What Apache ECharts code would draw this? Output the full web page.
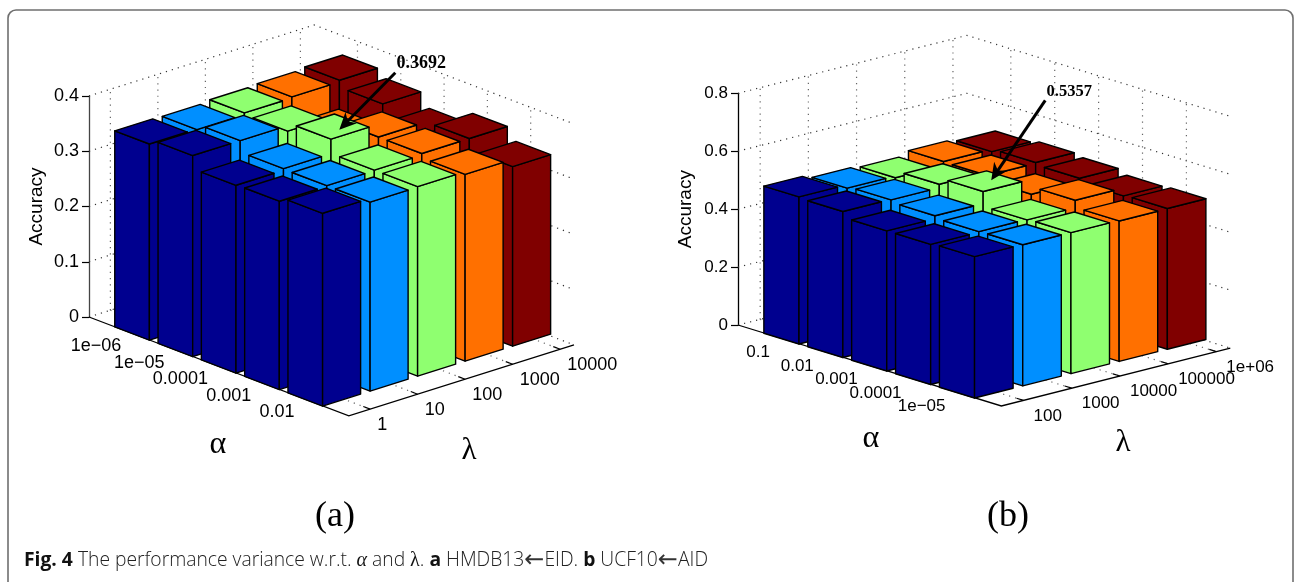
<!DOCTYPE html>
<html>
<head>
<meta charset="utf-8">
<style>
  html, body { margin: 0; padding: 0; background: #fff; }
  #main { width: 1294px; height: 582px; }
</style>
<script src="https://cdn.jsdelivr.net/npm/echarts@6/dist/echarts.min.js"></script>
</head>
<body>
<div id="main"></div>
<script>
// panel (a) HMDB13<-EID
var alphaLabelsA = ['1e\u221206', '1e\u221205', '0.0001', '0.001', '0.01'];
var lambdaLabelsA = ['1', '10', '100', '1000', '10000'];
var accA_lambda1 = [0.355, 0.364, 0.340, 0.341, 0.349];
var accA_lambda2 = [0.354, 0.364, 0.343, 0.342, 0.342];
var accA_lambda3 = [0.357, 0.354, 0.3692, 0.343, 0.343];
var accA_lambda4 = [0.359, 0.321, 0.346, 0.346, 0.338];
var accA_lambda5 = [0.362, 0.349, 0.325, 0.346, 0.325];

// panel (b) UCF10<-AID
var alphaLabelsB = ['0.1', '0.01', '0.001', '0.0001', '1e\u221205'];
var lambdaLabelsB = ['100', '1000', '10000', '100000', '1e+06'];
var accB_lambda1 = [0.508, 0.504, 0.484, 0.484, 0.488];
var accB_lambda2 = [0.496, 0.502, 0.494, 0.486, 0.487];
var accB_lambda3 = [0.490, 0.514, 0.5357, 0.484, 0.487];
var accB_lambda4 = [0.504, 0.502, 0.484, 0.510, 0.485];
var accB_lambda5 = [0.496, 0.505, 0.497, 0.483, 0.486];

var lambdaColors = ['#00008f', '#008fff', '#8fff70', '#ff7000', '#800000'];

// view of each plot: oblique projection, all steps are in axis units
var panelA = {
  grid: { left: 89, top: 96, width: 485, height: 221 },
  xMax: 11.2, yMax: 0.4, yStep: 0.1, font: 18, nameGap: 43,
  lambdaStep: 1.097, alphaDrop: 0.02984, lambdaRise: 0.02712, lambdaStart: 0.55, lambdaEnd: 5.29, barShift: 0.055,
  alphaOff: [-11, 13], lambdaOff: [7, 16],
  alphaLabels: alphaLabelsA, lambdaLabels: lambdaLabelsA,
  rows: [accA_lambda1, accA_lambda2, accA_lambda3, accA_lambda4, accA_lambda5],
  note: { a: 3, l: 3, text: '0.3692', font: 18, tipOff: [4, 4], tailOff: [56, -57], labelOff: [82, -66] },
  axisNames: { alpha: [218, 445], lambda: [469, 451] }, tag: { text: '(a)', pos: [335, 517] }
};
var panelB = {
  grid: { left: 738, top: 93.3, width: 492.5, height: 231.7 },
  xMax: 11.22, yMax: 0.8, yStep: 0.2, font: 17, nameGap: 43,
  lambdaStep: 1.098, alphaDrop: 0.0466, lambdaRise: 0.0421, lambdaStart: 0.54, lambdaEnd: 5.29, barShift: 0.07,
  alphaOff: [-12, 14], lambdaOff: [10, 15.5],
  alphaLabels: alphaLabelsB, lambdaLabels: lambdaLabelsB,
  rows: [accB_lambda1, accB_lambda2, accB_lambda3, accB_lambda4, accB_lambda5],
  note: { a: 3, l: 3, text: '0.5357', font: 16.5, tipOff: [3, 0], tailOff: [54, -80], labelOff: [78, -89] },
  axisNames: { alpha: [871, 439], lambda: [1123, 443] }, tag: { text: '(b)', pos: [1008, 517] }
};

function toAxis(p, a, l, z) {
  var dl = l - p.lambdaStart;
  return [a + dl * p.lambdaStep, z - a * p.alphaDrop + dl * p.lambdaRise];
}

function makeProject(p, api) {
  return function(a, l, z) {
    return api.coord(toAxis(p, a, l, z));
  };
}

function line(points, color, width, dash) {
  return {
    type: 'polyline',
    shape: { points: points },
    style: { stroke: color, fill: null, lineWidth: width, lineDash: dash || null }
  };
}

function frameRender(p) {
  return function(params, api) {
    var pt = makeProject(p, api);
    var kids = [];
    var dots = [1.2, 5];
    var a0 = 0, a1 = 6, l0 = p.lambdaStart, l1 = p.lambdaEnd;
    var i, z;

    // back walls
    for (i = 0; i * p.yStep <= p.yMax + 1e-9; i++) {
      z = i * p.yStep;
      kids.push(line([pt(a0, l0, z), pt(a0, l1, z), pt(a1, l1, z)], '#333', 1.2, dots));
    }
    for (i = 1; i <= 5; i++) {
      kids.push(line([pt(a0, i, 0), pt(a0, i, p.yMax)], '#666', 1.2, dots));
      kids.push(line([pt(i, l1, 0), pt(i, l1, p.yMax)], '#666', 1.2, dots));
      kids.push(line([pt(i, l0, 0), pt(i, l1, 0)], '#666', 1.2, dots));
      kids.push(line([pt(a0, i, 0), pt(a1, i, 0)], '#666', 1.2, dots));
    }

    // floor axes
    kids.push(line([pt(a0, l0, 0), pt(a1, l0, 0), pt(a1, l1, 0)], '#000', 1.3));
    for (i = 1; i <= 5; i++) {
      kids.push(line([pt(i, l0, 0), pt(i, l0 + 0.16, 0)], '#000', 1.2));
      kids.push(line([pt(a1, i, 0), pt(a1 - 0.16, i, 0)], '#000', 1.2));
      var aPos = pt(i, l0, 0);
      var lPos = pt(a1, i, 0);
      kids.push({
        type: 'text',
        style: {
          text: p.alphaLabels[i - 1], x: aPos[0] + p.alphaOff[0], y: aPos[1] + p.alphaOff[1],
          align: 'right', verticalAlign: 'middle', fill: '#000',
          font: p.font + 'px "Liberation Sans"'
        }
      });
      kids.push({
        type: 'text',
        style: {
          text: p.lambdaLabels[i - 1], x: lPos[0] + p.lambdaOff[0], y: lPos[1] + p.lambdaOff[1],
          align: 'left', verticalAlign: 'middle', fill: '#000',
          font: p.font + 'px "Liberation Sans"'
        }
      });
    }
    return { type: 'group', children: kids };
  };
}

function barRender(p) {
  var w = 0.4;
  return function(params, api) {
    var pt = makeProject(p, api);
    var a = api.value(0), idx = api.value(1), z = api.value(2);
    var l = idx - p.barShift;
    var color = lambdaColors[idx - 1];
    // corners of the top, named from the viewer
    var front = [a + w, l - w], left = [a - w, l - w], right = [a + w, l + w], back = [a - w, l + w];
    var style = { fill: color, stroke: '#000', lineWidth: 1.4, lineJoin: 'round' };
    function face(c1, c2, h1, h2) {
      return {
        type: 'polygon',
        shape: { points: [pt(c1[0], c1[1], h1), pt(c2[0], c2[1], h1), pt(c2[0], c2[1], h2), pt(c1[0], c1[1], h2)] },
        style: style
      };
    }
    return {
      type: 'group',
      children: [
        face(left, front, 0, z),
        face(front, right, 0, z),
        {
          type: 'polygon',
          shape: { points: [pt(front[0], front[1], z), pt(right[0], right[1], z), pt(back[0], back[1], z), pt(left[0], left[1], z)] },
          style: style
        }
      ]
    };
  };
}

function noteRender(p) {
  return function(params, api) {
    var n = p.note;
    var c = api.coord(toAxis(p, n.a, n.l, p.rows[n.l - 1][n.a - 1]));
    var tip = [c[0] + n.tipOff[0], c[1] + n.tipOff[1]];
    var tail = [tip[0] + n.tailOff[0], tip[1] + n.tailOff[1]];
    var len = Math.sqrt(n.tailOff[0] * n.tailOff[0] + n.tailOff[1] * n.tailOff[1]);
    var ux = n.tailOff[0] / len, uy = n.tailOff[1] / len;
    var head = 17, half = 8;
    var bx = tip[0] + ux * head, by = tip[1] + uy * head;
    return {
      type: 'group',
      children: [
        line([tail, [tip[0] + ux * 8, tip[1] + uy * 8]], '#000', 3),
        {
          type: 'polygon',
          shape: { points: [tip, [bx - uy * half, by + ux * half], [tip[0] + ux * 12, tip[1] + uy * 12], [bx + uy * half, by - ux * half]] },
          style: { fill: '#000' }
        },
        {
          type: 'text',
          style: {
            text: n.text, x: tip[0] + n.labelOff[0], y: tip[1] + n.labelOff[1],
            align: 'center', verticalAlign: 'middle', fill: '#000',
            font: 'bold ' + n.font + 'px "Liberation Serif"'
          }
        }
      ]
    };
  };
}

function barData(p) {
  var out = [];
  // far bars first so the near ones paint over them
  for (var a = 1; a <= 5; a++) {
    for (var l = 5; l >= 1; l--) {
      out.push([a, l, p.rows[l - 1][a - 1]]);
    }
  }
  return out;
}

var panels = [panelA, panelB];
var grids = [], xAxes = [], yAxes = [], series = [], labels = [];

panels.forEach(function(p, idx) {
  grids.push(p.grid);
  xAxes.push({ gridIndex: idx, type: 'value', min: 0, max: p.xMax, show: false });
  yAxes.push({
    gridIndex: idx,
    type: 'value',
    min: 0,
    max: p.yMax,
    interval: p.yStep,
    position: 'left',
    name: 'Accuracy',
    nameLocation: 'middle',
    nameRotate: 90,
    nameGap: p.nameGap,
    nameTextStyle: { color: '#000', fontSize: 19, fontFamily: 'Liberation Sans' },
    axisLine: { show: true, lineStyle: { color: idx ? '#000' : '#444', width: 1.3 } },
    axisTick: { show: true, length: 7, lineStyle: { color: '#000', width: 1.2 } },
    axisLabel: {
      show: true, margin: 10, color: '#000', fontSize: p.font, fontFamily: 'Liberation Sans',
      formatter: function(v) { return v === 0 ? '0' : v.toFixed(1); }
    },
    splitLine: { show: false }
  });
  series.push({
    type: 'custom', xAxisIndex: idx, yAxisIndex: idx, clip: false, silent: true, z: 1,
    renderItem: frameRender(p), data: [[0, 0]]
  });
  series.push({
    type: 'custom', xAxisIndex: idx, yAxisIndex: idx, clip: false, silent: true, z: 2,
    renderItem: barRender(p), data: barData(p),
    encode: { x: 0, y: 2 }
  });
  series.push({
    type: 'custom', xAxisIndex: idx, yAxisIndex: idx, clip: false, silent: true, z: 3,
    renderItem: noteRender(p), data: [[0, 0]]
  });

  var serif = '"Liberation Serif"';
  labels.push({ type: 'text', x: p.axisNames.alpha[0], y: p.axisNames.alpha[1], style: { text: '\u03b1', align: 'center', verticalAlign: 'middle', fill: '#000', font: '32px ' + serif } });
  labels.push({ type: 'text', x: p.axisNames.lambda[0], y: p.axisNames.lambda[1], style: { text: '\u03bb', align: 'center', verticalAlign: 'middle', fill: '#000', font: '31px ' + serif } });
  labels.push({ type: 'text', x: p.tag.pos[0], y: p.tag.pos[1], style: { text: p.tag.text, align: 'center', verticalAlign: 'middle', fill: '#000', font: '36px ' + serif } });
});

// card border, open at the bottom of the page
labels.push({
  type: 'rect',
  shape: { x: 8, y: 10, width: 1285, height: 620, r: 8 },
  style: { fill: null, stroke: '#6f6f6f', lineWidth: 1.6 }
});
labels.push({
  type: 'text',
  x: 24,
  y: 561,
  style: {
    text: '{b|Fig. 4} The performance variance w.r.t. {m|\u03b1} and {s|\u03bb}. {b|a} HMDB13{ar|\u2190}EID. {b|b} UCF10{ar|\u2190}AID',
    font: '300 19.3px "Open Sans"',
    fill: '#222',
    verticalAlign: 'middle',
    rich: {
      b: { font: 'bold 19.3px "Open Sans"', fill: '#111' },
      m: { font: 'italic 20px "Liberation Serif"', fill: '#111' },
      s: { font: '20px "Liberation Serif"', fill: '#111' },
      ar: { font: '24px "DejaVu Sans"', fill: '#333' }
    }
  }
});

var myChart = echarts.init(document.getElementById('main'), null, { renderer: 'canvas' });
var option = {
  animation: false,
  backgroundColor: '#fff',
  grid: grids,
  xAxis: xAxes,
  yAxis: yAxes,
  series: series,
  graphic: { elements: labels }
};
myChart.setOption(option);
window.addEventListener('resize', function() {
  myChart.resize();
});
</script>
</body>
</html>
